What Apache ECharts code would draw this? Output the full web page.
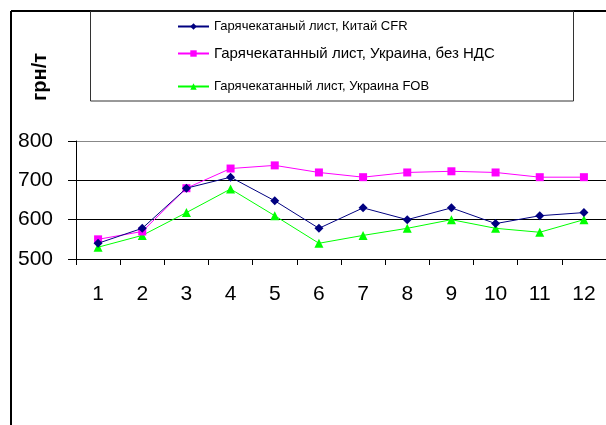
<!DOCTYPE html>
<html>
<head>
<meta charset="utf-8">
<script src="https://cdn.jsdelivr.net/npm/echarts@6/dist/echarts.min.js"></script>
<style>
  html, body { margin: 0; padding: 0; background: #fff; }
  #chart { width: 606px; height: 425px; }
</style>
</head>
<body>
<div id="chart"></div>
<script>
const months = ["1", "2", "3", "4", "5", "6", "7", "8", "9", "10", "11", "12"]
const chinaCfr = [540, 578, 680, 708, 648, 578, 630, 600, 630, 590, 610, 618]
const ukraineNoVat = [550, 570, 680, 730, 738, 720, 708, 720, 723, 720, 708, 708]
const ukraineFob = [530, 560, 618, 678, 610, 540, 560, 578, 600, 578, 568, 600]
const yTicks = [500, 600, 700, 800]

const names = [
  "Гарячекатаный лист, Китай CFR",
  "Гарячекатанный лист, Украина, без НДС",
  "Гарячекатанный лист, Украина FOB",
]

const font = "Liberation Sans, Arial, sans-serif"
const chart = echarts.init(document.getElementById("chart"))

// one legend per row so each row can sit where it does in the original
function legendRow(name, top, size) {
  return {
    orient: "vertical",
    left: 177,
    top: top,
    padding: 0,
    itemWidth: 31,
    itemHeight: 8,
    data: [name],
    textStyle: { color: "#000", fontFamily: font, fontSize: size },
  }
}

const option = {
  animation: false,
  textStyle: { fontFamily: font },
  graphic: [
    // outer frame (left and top edges visible)
    { type: "line", shape: { x1: 11, y1: 11, x2: 11, y2: 425 }, style: { stroke: "#000", lineWidth: 2 } },
    { type: "line", shape: { x1: 11, y1: 11, x2: 606, y2: 11 }, style: { stroke: "#000", lineWidth: 2 } },
    // legend box
    { type: "rect", shape: { x: 90.5, y: 11, width: 483, height: 90 }, style: { fill: null, stroke: "#333", lineWidth: 1 } },
    {
      type: "text", left: 30, top: 53, rotation: Math.PI / 2,
      style: { text: "грн/т", font: "bold 20px " + font, fill: "#000" },
    },
  ],
  legend: [
    legendRow(names[0], 20, 13),
    legendRow(names[1], 46, 15),
    legendRow(names[2], 80, 13),
  ],
  grid: { left: 76, right: 0, top: 141, bottom: 166, containLabel: false },
  xAxis: {
    type: "category",
    data: months,
    boundaryGap: true,
    axisLine: { lineStyle: { color: "#000", width: 1 } },
    axisTick: { show: true, length: 6, lineStyle: { color: "#000" } },
    axisLabel: { color: "#000", fontSize: 21, margin: 25, fontFamily: font },
  },
  yAxis: {
    type: "value",
    min: yTicks[0],
    max: yTicks[yTicks.length - 1],
    interval: 100,
    axisLine: { show: true, lineStyle: { color: "#000" } },
    axisTick: { show: true, length: 8, lineStyle: { color: "#000" } },
    axisLabel: { color: "#000", fontSize: 21, margin: 23, fontFamily: font },
    splitLine: { show: true, lineStyle: { color: ["#000", "#000", "#000", "#888"], width: 1 } },
  },
  series: [
    {
      name: names[0], type: "line", data: chinaCfr,
      symbol: "diamond", symbolSize: 9,
      lineStyle: { color: "#000080", width: 1 },
      itemStyle: { color: "#000080" },
      z: 4,
    },
    {
      name: names[1], type: "line", data: ukraineNoVat,
      symbol: "rect", symbolSize: 8,
      lineStyle: { color: "#ff00ff", width: 1 },
      itemStyle: { color: "#ff00ff" },
      z: 3,
    },
    {
      name: names[2], type: "line", data: ukraineFob,
      symbol: "triangle", symbolSize: 9,
      lineStyle: { color: "#00ff00", width: 1 },
      itemStyle: { color: "#00ff00" },
      z: 2,
    },
  ],
}

chart.setOption(option)
</script>
</body>
</html>
